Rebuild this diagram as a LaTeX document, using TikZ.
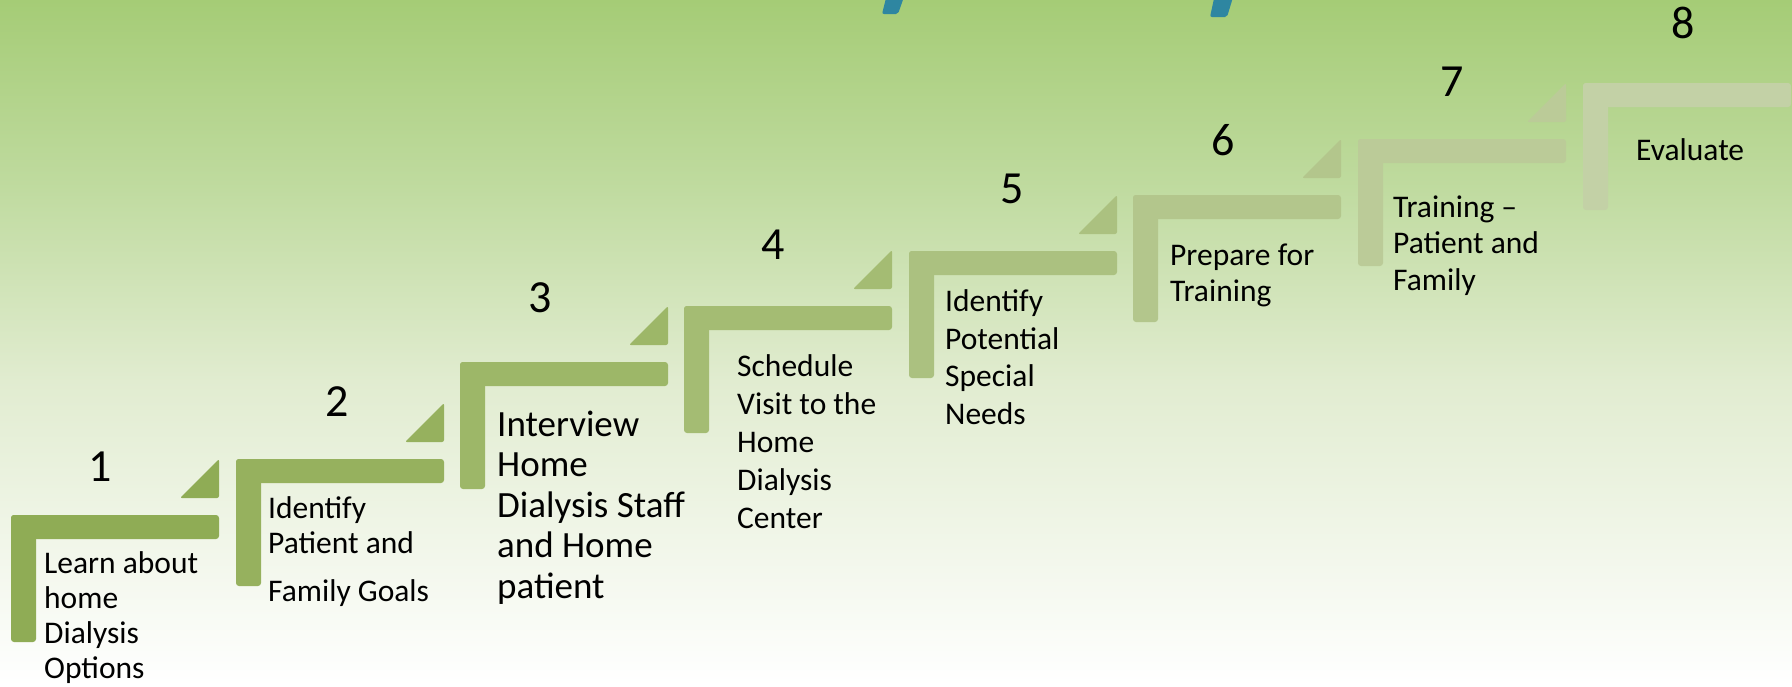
\documentclass[tikz,border=0pt]{standalone}
\usepackage{fontspec}
\setmainfont{Carlito}
\definecolor{bgtop}{RGB}{165,204,118}
\definecolor{bgmida}{RGB}{192,219,160}
\definecolor{bgmidb}{RGB}{225,236,208}
\definecolor{stepone}{RGB}{143,172,85}
\definecolor{steptwo}{RGB}{150,177,94}
\definecolor{stepthree}{RGB}{157,183,104}
\definecolor{stepfour}{RGB}{164,188,115}
\definecolor{stepfive}{RGB}{171,193,128}
\definecolor{stepsix}{RGB}{179,198,140}
\definecolor{stepseven}{RGB}{187,203,152}
\definecolor{stepeight}{RGB}{195,209,166}
\definecolor{markblue}{RGB}{46,134,161}
\begin{document}
\begin{tikzpicture}[x=1pt,y=-1pt,
  bar/.style={rounded corners=3pt},
  wedge/.style={rounded corners=2pt},
  num/.style={font=\fontsize{46}{50}\selectfont},
  txt/.style={anchor=base west,align=left,inner sep=0pt,font=\fontsize{31.5}{35}\selectfont}]
\useasboundingbox (0,0) rectangle (1792,686) ;
\shade[top color=bgtop,bottom color=bgmida] (0,0) rectangle (1792,191) ;
\shade[top color=bgmida,bottom color=bgmidb] (0,190) rectangle (1792,381) ;
\shade[top color=bgmidb,bottom color=white] (0,380) rectangle (1792,686) ;
\fill[markblue,rounded corners=2pt] (887,-6) -- (905,-6) -- (898,14) -- (882,14) -- cycle ;
\fill[markblue,rounded corners=2pt] (1215,-6) -- (1234,-6) -- (1227,17) -- (1210,17) -- cycle ;
\coordinate (S1) at (11,515) ;
\coordinate (S2) at (236,459) ;
\coordinate (S3) at (460,362) ;
\coordinate (S4) at (684,306) ;
\coordinate (S5) at (909,251) ;
\coordinate (S6) at (1133,195) ;
\coordinate (S7) at (1358,139) ;
\coordinate (S8) at (1583,83) ;
\fill[stepone,bar] (S1) rectangle ([xshift=208pt,yshift=-24pt] S1) ;
\fill[stepone,bar] (S1) rectangle ([xshift=25pt,yshift=-127pt] S1) ;
\fill[stepone,wedge] ([xshift=169pt,yshift=17pt] S1) -- ([xshift=208pt,yshift=17pt] S1) -- ([xshift=208pt,yshift=56pt] S1) -- cycle ;
\fill[steptwo,bar] (S2) rectangle ([xshift=208pt,yshift=-24pt] S2) ;
\fill[steptwo,bar] (S2) rectangle ([xshift=25pt,yshift=-127pt] S2) ;
\fill[steptwo,wedge] ([xshift=169pt,yshift=17pt] S2) -- ([xshift=208pt,yshift=17pt] S2) -- ([xshift=208pt,yshift=56pt] S2) -- cycle ;
\fill[stepthree,bar] (S3) rectangle ([xshift=208pt,yshift=-24pt] S3) ;
\fill[stepthree,bar] (S3) rectangle ([xshift=25pt,yshift=-127pt] S3) ;
\fill[stepthree,wedge] ([xshift=169pt,yshift=17pt] S3) -- ([xshift=208pt,yshift=17pt] S3) -- ([xshift=208pt,yshift=56pt] S3) -- cycle ;
\fill[stepfour,bar] (S4) rectangle ([xshift=208pt,yshift=-24pt] S4) ;
\fill[stepfour,bar] (S4) rectangle ([xshift=25pt,yshift=-127pt] S4) ;
\fill[stepfour,wedge] ([xshift=169pt,yshift=17pt] S4) -- ([xshift=208pt,yshift=17pt] S4) -- ([xshift=208pt,yshift=56pt] S4) -- cycle ;
\fill[stepfive,bar] (S5) rectangle ([xshift=208pt,yshift=-24pt] S5) ;
\fill[stepfive,bar] (S5) rectangle ([xshift=25pt,yshift=-127pt] S5) ;
\fill[stepfive,wedge] ([xshift=169pt,yshift=17pt] S5) -- ([xshift=208pt,yshift=17pt] S5) -- ([xshift=208pt,yshift=56pt] S5) -- cycle ;
\fill[stepsix,bar] (S6) rectangle ([xshift=208pt,yshift=-24pt] S6) ;
\fill[stepsix,bar] (S6) rectangle ([xshift=25pt,yshift=-127pt] S6) ;
\fill[stepsix,wedge] ([xshift=169pt,yshift=17pt] S6) -- ([xshift=208pt,yshift=17pt] S6) -- ([xshift=208pt,yshift=56pt] S6) -- cycle ;
\fill[stepseven,bar] (S7) rectangle ([xshift=208pt,yshift=-24pt] S7) ;
\fill[stepseven,bar] (S7) rectangle ([xshift=25pt,yshift=-127pt] S7) ;
\fill[stepseven,wedge] ([xshift=169pt,yshift=17pt] S7) -- ([xshift=208pt,yshift=17pt] S7) -- ([xshift=208pt,yshift=56pt] S7) -- cycle ;
\fill[stepeight,bar] (S8) rectangle ([xshift=208pt,yshift=-24pt] S8) ;
\fill[stepeight,bar] (S8) rectangle ([xshift=25pt,yshift=-127pt] S8) ;
\node[num] (N1) at (100,467) {1} ;
\node[num] (N2) at (337,402) {2} ;
\node[num] (N3) at (540,298) {3} ;
\node[num] (N4) at (773,245) {4} ;
\node[num] (N5) at (1012,189) {5} ;
\node[num] (N6) at (1223,140) {6} ;
\node[num] (N7) at (1452,82) {7} ;
\node[num] (N8) at (1683,23) {8} ;
\node[txt] (T1) at (44,678) {Learn about\\home\\Dialysis\\Options} ;
\node[txt] (T2) at (268,601) {Identify\\Patient and\\[13pt]Family Goals} ;
\node[txt,font=\fontsize{37}{40.5}\selectfont] (T3) at (497,598) {Interview\\Home\\Dialysis Staff\\and Home\\patient} ;
\node[txt,font=\fontsize{31.5}{38}\selectfont] (T4) at (737,528) {Schedule\\Visit to the\\Home\\Dialysis\\Center} ;
\node[txt,font=\fontsize{31.5}{37.5}\selectfont] (T5) at (945,424) {Identify\\Potential\\Special\\Needs} ;
\node[txt,font=\fontsize{31.5}{36}\selectfont] (T6) at (1170,301) {Prepare for\\Training} ;
\node[txt,font=\fontsize{31.5}{36.5}\selectfont] (T7) at (1393,290) {Training –\\Patient and\\Family} ;
\node[txt] (T8) at (1636,160) {Evaluate} ;
\end{tikzpicture}
\end{document}
